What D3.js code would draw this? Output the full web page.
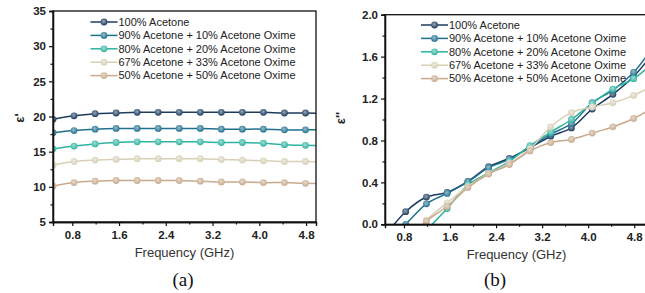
<!DOCTYPE html>
<html>
<head>
<meta charset="utf-8">
<script src="https://cdn.jsdelivr.net/npm/d3@7/dist/d3.min.js"></script>
<style>
  body { margin: 0; background: #fff; }
  svg { display: block; }
</style>
</head>
<body>
<svg id="fig" width="645" height="293"></svg>
<script>
// measured frequencies (GHz); first and last points sit on / past the frame
var freqs = [0.47, 0.83, 1.19, 1.55, 1.91, 2.27, 2.63, 2.99, 3.35, 3.71, 4.07, 4.43, 4.79, 5.15];

var seriesNames = [
  "100% Acetone",
  "90% Acetone + 10% Acetone Oxime",
  "80% Acetone + 20% Acetone Oxime",
  "67% Acetone + 33% Acetone Oxime",
  "50% Acetone + 50% Acetone Oxime"
];
var seriesColors = ["#1c3b5e", "#1f6f8e", "#2fb3a0", "#d8cfb6", "#c8aa8c"];

// (a) real permittivity
var real100 = [19.6, 20.1, 20.4, 20.5, 20.6, 20.6, 20.6, 20.6, 20.6, 20.6, 20.6, 20.5, 20.5, 20.4];
var real90  = [17.7, 18.0, 18.2, 18.3, 18.3, 18.3, 18.3, 18.3, 18.2, 18.2, 18.2, 18.1, 18.1, 18.1];
var real80  = [15.4, 15.8, 16.1, 16.3, 16.4, 16.4, 16.4, 16.4, 16.3, 16.3, 16.2, 16.0, 15.9, 15.9];
var real67  = [13.1, 13.6, 13.8, 13.9, 14.0, 14.0, 14.0, 14.0, 13.9, 13.8, 13.7, 13.6, 13.6, 13.5];
var real50  = [10.1, 10.6, 10.8, 10.9, 10.9, 10.9, 10.9, 10.8, 10.7, 10.7, 10.6, 10.6, 10.5, 10.5];

// (b) imaginary permittivity
var imag100 = [-0.11, 0.12, 0.26, 0.305, 0.41, 0.55, 0.63, 0.73, 0.84, 0.92, 1.10, 1.24, 1.41, 1.65];
var imag90  = [-0.19, 0.0, 0.195, 0.295, 0.405, 0.54, 0.62, 0.74, 0.86, 0.96, 1.16, 1.28, 1.45, 1.71];
var imag80  = [-0.5, -0.3, -0.06, 0.15, 0.375, 0.49, 0.60, 0.75, 0.88, 1.0, 1.155, 1.29, 1.39, 1.55];
var imag67  = [-0.4, -0.2, 0.04, 0.205, 0.36, 0.485, 0.58, 0.72, 0.93, 1.065, 1.12, 1.16, 1.23, 1.33];
var imag50  = [-0.4, -0.2, 0.03, 0.17, 0.35, 0.48, 0.57, 0.70, 0.78, 0.81, 0.87, 0.93, 1.01, 1.12];

var xTicks = [0.8, 1.6, 2.4, 3.2, 4.0, 4.8];
var xMinor = [1.2, 2.0, 2.8, 3.6, 4.4];
var realTicks = [5, 10, 15, 20, 25, 30, 35];
var realMinor = [7.5, 12.5, 17.5, 22.5, 27.5, 32.5];
var imagTicks = [0.0, 0.4, 0.8, 1.2, 1.6, 2.0];
var imagMinor = [0.2, 0.6, 1.0, 1.4, 1.8];

var svg = d3.select("#fig");
var defs = svg.append("defs");

// ball-like markers
seriesColors.forEach(function(c, i) {
  var g = defs.append("radialGradient").attr("id", "ball" + i)
      .attr("cx", "45%").attr("cy", "40%").attr("r", "60%");
  g.append("stop").attr("offset", "0%").attr("stop-color", d3.interpolateRgb(c, "#fff")(0.55));
  g.append("stop").attr("offset", "100%").attr("stop-color", c);
});

function drawPanel(p) {
  var x = d3.scaleLinear().domain([0.47, p.xMax]).range([p.left, p.left + p.width]);
  var y = d3.scaleLinear().domain(p.yDomain).range([p.top + p.height, p.top]);

  defs.append("clipPath").attr("id", p.id + "clip")
    .append("rect").attr("x", p.left).attr("y", p.top)
    .attr("width", p.width).attr("height", p.height);

  var plot = svg.append("g").attr("clip-path", "url(#" + p.id + "clip)");
  var line = d3.line()
      .x(function(d, i) { return x(freqs[i]); })
      .y(function(d) { return y(d); })
      .curve(d3.curveCatmullRom);

  p.series.forEach(function(vals, i) {
    plot.append("path").attr("d", line(vals))
      .attr("fill", "none").attr("stroke", seriesColors[i]).attr("stroke-width", 1.5);
    plot.selectAll(null).data(vals).enter().append("circle")
      .attr("cx", function(d, j) { return x(freqs[j]); })
      .attr("cy", function(d) { return y(d); })
      .attr("r", 3.4)
      .attr("fill", "url(#ball" + i + ")");
  });

  // frame
  svg.append("rect").attr("x", p.left).attr("y", p.top)
    .attr("width", p.width).attr("height", p.height)
    .attr("fill", "none").attr("stroke", "#111").attr("stroke-width", 1.3);

  var xAxis = svg.append("g").attr("transform", "translate(0," + (p.top + p.height) + ")")
    .call(d3.axisBottom(x).tickValues(xTicks).tickSize(4).tickPadding(5).tickFormat(d3.format(".1f")));
  svg.append("g").attr("transform", "translate(0," + (p.top + p.height) + ")")
    .call(d3.axisBottom(x).tickValues(xMinor).tickSize(2.5).tickFormat(""));
  var yAxis = svg.append("g").attr("transform", "translate(" + p.left + ",0)")
    .call(d3.axisLeft(y).tickValues(p.yTicks).tickSize(4).tickPadding(3).tickFormat(p.fmt));
  svg.append("g").attr("transform", "translate(" + p.left + ",0)")
    .call(d3.axisLeft(y).tickValues(p.yMinor).tickSize(2.5).tickFormat(""));

  svg.selectAll(".domain").attr("stroke", "#111").attr("stroke-width", 1.3);
  svg.selectAll(".tick line").attr("stroke", "#111").attr("stroke-width", 1.2);
  [xAxis, yAxis].forEach(function(a) {
    a.selectAll("text").attr("font-family", "Liberation Sans, Arial, sans-serif")
      .attr("font-size", 11.5).attr("font-weight", "bold").attr("fill", "#222");
  });

  svg.append("text").attr("x", p.left + p.width / 2).attr("y", p.top + p.height + 35)
    .attr("text-anchor", "middle").attr("font-family", "Liberation Sans, Arial, sans-serif")
    .attr("font-size", 13).attr("fill", "#333").text("Frequency (GHz)");

  svg.append("text")
    .attr("transform", "translate(" + p.yLabelX + "," + p.yLabelY + ") rotate(-90)")
    .attr("text-anchor", "middle").attr("font-family", "Liberation Sans, Arial, sans-serif")
    .attr("font-size", 13).attr("font-weight", "bold").attr("fill", "#222").text(p.yLabel);

  svg.append("text").attr("x", p.capX).attr("y", 286)
    .attr("text-anchor", "middle").attr("font-family", "Liberation Serif, Times New Roman, serif")
    .attr("font-size", 19).attr("fill", "#111").text(p.caption);

  // legend
  var lg = svg.append("g").attr("transform", "translate(" + p.legX + "," + p.legY + ")");
  seriesNames.forEach(function(name, i) {
    var row = lg.append("g").attr("transform", "translate(0," + (i * 13.4) + ")");
    row.append("line").attr("x1", 0).attr("x2", 27).attr("y1", 0).attr("y2", 0)
      .attr("stroke", seriesColors[i]).attr("stroke-width", 1.5);
    row.append("circle").attr("cx", 13.5).attr("cy", 0).attr("r", 3.4)
      .attr("fill", "url(#ball" + i + ")");
    row.append("text").attr("x", 28).attr("y", 0).attr("dy", "0.35em")
      .attr("font-family", "Liberation Sans, Arial, sans-serif").attr("font-size", 11)
      .attr("fill", "#222").text(name);
  });
}

drawPanel({
  id: "a", left: 53, top: 11, width: 263, height: 211, xMax: 4.97,
  yDomain: [5, 35], yTicks: realTicks, yMinor: realMinor, fmt: d3.format("d"),
  series: [real100, real90, real80, real67, real50],
  yLabel: "\u03b5'", yLabelX: 24, yLabelY: 118,
  caption: "(a)", capX: 183, legX: 90.5, legY: 22
});

// right panel runs past the window edge, as in the source figure
drawPanel({
  id: "b", left: 385, top: 14.7, width: 263, height: 209.6, xMax: 5.04,
  yDomain: [0, 2], yTicks: imagTicks, yMinor: imagMinor, fmt: d3.format(".1f"),
  series: [imag100, imag90, imag80, imag67, imag50],
  yLabel: "\u03b5''", yLabelX: 345, yLabelY: 118,
  caption: "(b)", capX: 495, legX: 421, legY: 25
});
</script>
</body>
</html>
